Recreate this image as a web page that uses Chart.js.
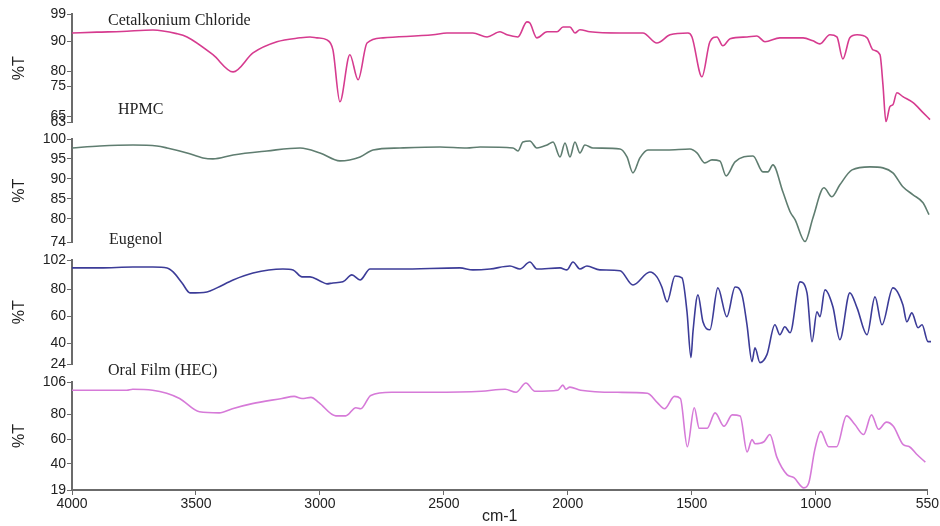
<!DOCTYPE html>
<html>
<head>
<meta charset="utf-8">
<script src="https://cdn.jsdelivr.net/npm/chart.js@4.4.1/dist/chart.umd.min.js"></script>
<style>
  body { margin: 0; background: #fff; }
  #wrap { position: relative; width: 940px; height: 526px; overflow: hidden; }
  canvas { position: absolute; left: 0; }
  .lbl { position: absolute; font-family: "Liberation Serif", "Times New Roman", serif; font-size: 16px; color: #222; white-space: nowrap; line-height: 1; }
</style>
</head>
<body>
<div id="wrap">
  <canvas id="p1" width="940" height="132" style="top:0px"></canvas>
  <canvas id="p2" width="940" height="127" style="top:125px"></canvas>
  <canvas id="p3" width="940" height="129" style="top:245px"></canvas>
  <canvas id="p4" width="940" height="161" style="top:365px"></canvas>
  <div class="lbl" style="left:108px;top:12px">Cetalkonium Chloride</div>
  <div class="lbl" style="left:118px;top:101px">HPMC</div>
  <div class="lbl" style="left:109px;top:231px">Eugenol</div>
  <div class="lbl" style="left:108px;top:362px">Oral Film (HEC)</div>
</div>
<script>
// wavenumber ticks (cm-1), shared by all panels
const xTicks = [4000, 3500, 3000, 2500, 2000, 1500, 1000, 550];

// Cetalkonium Chloride
const cetWn = [4000,3900,3800,3675,3580,3538,3434,3353,3273,3177,3084,3044,3016,2976,2952,2924,2884,2851,2815,2751,2550,2494,2390,2333,2281,2253,2209,2173,2161,2133,2092,2052,2028,2000,1980,1960,1920,1799,1707,1651,1598,1526,1510,1470,1438,1410,1386,1357,1289,1249,1217,1157,1064,1024,996,956,928,904,876,847,807,783,755,743,731,715,703,687,663,622,582,554];
const cetT = [92.7,93.0,93.2,93.7,92.5,91.4,85.5,79.8,86.1,89.8,91.1,91.4,91.1,90.4,87.1,69.9,85.5,77.2,89.4,91.1,92.1,92.7,92.7,91.4,93.1,92.1,91.4,96.4,96.0,91.1,93.1,93.1,94.7,94.7,92.7,93.8,93.1,92.7,92.7,89.4,92.1,92.7,91.4,78.2,89.8,91.4,88.5,90.8,91.4,91.7,89.8,91.1,91.1,90.1,89.1,92.1,91.4,84.1,91.1,92.1,91.1,87.1,85.5,75.6,63.3,68.3,68.9,72.9,71.6,69.6,66.3,64.0];
const cetTicks = [99, 90, 80, 75, 65, 63];

// HPMC
const hpWn = [4000,3888,3755,3659,3618,3538,3474,3434,3353,3217,3084,3004,2924,2843,2791,2683,2522,2414,2361,2229,2209,2189,2161,2133,2092,2068,2040,2020,2000,1980,1960,1940,1908,1799,1771,1747,1719,1687,1610,1518,1490,1458,1430,1398,1373,1337,1265,1225,1205,1185,1145,1116,1096,1056,1024,980,948,916,867,795,743,703,663,622,582,558];
const hpT = [97.75,98.25,98.5,98.25,97.75,96.5,95.25,95,96,97,97.75,96.5,94.5,95.5,97.25,97.75,98,97.75,98,97.75,97,99.25,99.5,97.75,98.5,99.25,95.5,99,95.5,99.25,96.5,98.5,97.75,97.5,95.5,91.5,95.25,97.25,97.25,97.5,96.5,94,94.75,94.5,90.75,94.25,95.75,91.75,91.75,93.5,86.75,81.75,79.75,74.25,80.25,87.75,85.5,88.5,92.25,93,92.75,91.5,88,86,84,81];
const hpTicks = [100, 95, 90, 85, 80, 74];

// Eugenol
const euWn = [4000,3888,3755,3675,3618,3594,3558,3526,3458,3418,3353,3273,3153,3112,3076,3044,3004,2976,2952,2912,2876,2843,2803,2683,2442,2390,2321,2241,2201,2161,2133,2040,2012,1988,1960,1932,1880,1799,1747,1679,1651,1631,1610,1578,1550,1530,1514,1506,1486,1466,1438,1406,1370,1337,1309,1289,1269,1257,1237,1209,1177,1157,1137,1116,1076,1048,1028,1008,996,976,944,916,876,847,807,775,747,703,663,647,627,602,586,562,550];
const euT = [96.1,96.1,96.8,96.8,96.1,93.1,84.9,77.5,78.2,81.2,87.1,92.3,95.3,94.6,89.4,89.4,86.4,84.2,84.9,85.7,90.9,87.1,95.3,95.3,96.1,94.6,95.3,97.5,95.3,100.5,95.3,96.1,94.6,100.5,95.3,97.5,94.6,94.0,83.4,93.1,89.4,81.9,70.8,90.1,88.6,63.4,29.2,48.5,76.0,55.9,50.0,81.2,59.7,81.9,76.0,53.7,26.2,36.6,25.5,31.4,53.7,46.3,52.2,47.8,85.7,77.5,41.1,63.4,59.7,79.7,67.1,42.6,77.5,66.3,46.3,74.5,53.7,81.2,68.6,55.9,62.6,51.5,53.7,41.1,41.1];
const euTicks = [102, 80, 60, 40, 24];

// Oral Film (HEC)
const ofWn = [4000,3779,3755,3675,3618,3566,3486,3406,3353,3273,3153,3104,3072,3036,3004,2936,2896,2855,2835,2795,2711,2550,2349,2253,2209,2169,2133,2040,2020,2008,1992,1948,1799,1679,1639,1610,1570,1546,1518,1490,1470,1438,1406,1370,1337,1305,1277,1257,1245,1209,1185,1157,1116,1088,1048,1028,1004,980,948,916,876,843,807,775,747,715,687,647,622,594,558];
const ofT = [99.4,99.4,100.2,99.4,96.9,92.7,82.0,81.1,84.5,88.6,92.7,94.4,92.7,93.6,89.4,78.7,78.7,85.3,84.5,95.2,97.7,97.7,98.5,100.2,97.7,105.2,98.5,99.4,103.5,100.2,101.9,99.4,97.7,96.9,89.4,84.5,94.4,92.7,53.8,85.3,68.7,68.7,81.1,70.4,79.5,78.7,49.7,59.6,56.3,57.9,63.7,45.5,31.4,28.9,20.7,24.8,51.3,66.2,53.8,53.8,78.7,72.0,63.7,79.5,67.9,73.7,70.4,55.5,53.8,48.0,41.4];
const ofTicks = [106, 80, 60, 40, 19];

const sans = 'Arial, "Liberation Sans", sans-serif';
const axisColor = '#6b6b6b';
const textColor = '#222';

function makePanel(id, wn, T, color, yTicks, padTop, showX) {
    const points = wn.map((w, i) => ({ x: w, y: T[i] }));
    return new Chart(document.getElementById(id), {
        type: 'line',
        data: {
            datasets: [{
                data: points,
                borderColor: color,
                borderWidth: 1.6,
                pointRadius: 0,
                fill: false,
                cubicInterpolationMode: 'monotone'
            }]
        },
        options: {
            responsive: false,
            animation: false,
            events: [],
            layout: { padding: { top: padTop, bottom: 0, left: 0, right: 9 } },
            plugins: { legend: { display: false }, tooltip: { enabled: false } },
            scales: {
                x: {
                    type: 'linear',
                    reverse: true,
                    min: 550,
                    max: 4000,
                    display: showX,
                    afterBuildTicks: s => { s.ticks = xTicks.map(v => ({ value: v })); },
                    afterFit: s => { s.height = showX ? 36 : 0; },
                    grid: { display: true, drawOnChartArea: false, drawTicks: true, tickLength: 5, color: axisColor },
                    border: { display: true, color: axisColor, width: 2 },
                    ticks: { color: textColor, font: { family: sans, size: 14 }, maxRotation: 0, autoSkip: false, padding: 1, callback: v => String(v) },
                    title: { display: true, text: 'cm-1', color: textColor, font: { family: sans, size: 16 }, padding: { top: 0, bottom: 0 } }
                },
                y: {
                    min: yTicks[yTicks.length - 1],
                    max: yTicks[0],
                    afterBuildTicks: s => { s.ticks = yTicks.map(v => ({ value: v })); },
                    afterFit: s => { s.width = 72; },
                    grid: { display: true, drawOnChartArea: false, drawTicks: true, tickLength: 5, color: axisColor },
                    border: { display: true, color: axisColor, width: 2 },
                    ticks: { color: textColor, font: { family: sans, size: 14 }, padding: 1, autoSkip: false, callback: v => String(v) },
                    title: { display: true, text: '%T', color: textColor, font: { family: sans, size: 16 }, padding: { top: 10, bottom: 0 } }
                }
            }
        }
    });
}

makePanel('p1', cetWn, cetT, '#d63b8f', cetTicks, 14, false);
makePanel('p2', hpWn, hpT, '#5f7d70', hpTicks, 14, false);
makePanel('p3', euWn, euT, '#3c3c98', euTicks, 15, false);
makePanel('p4', ofWn, ofT, '#d67ad8', ofTicks, 17, true);
</script>
</body>
</html>
